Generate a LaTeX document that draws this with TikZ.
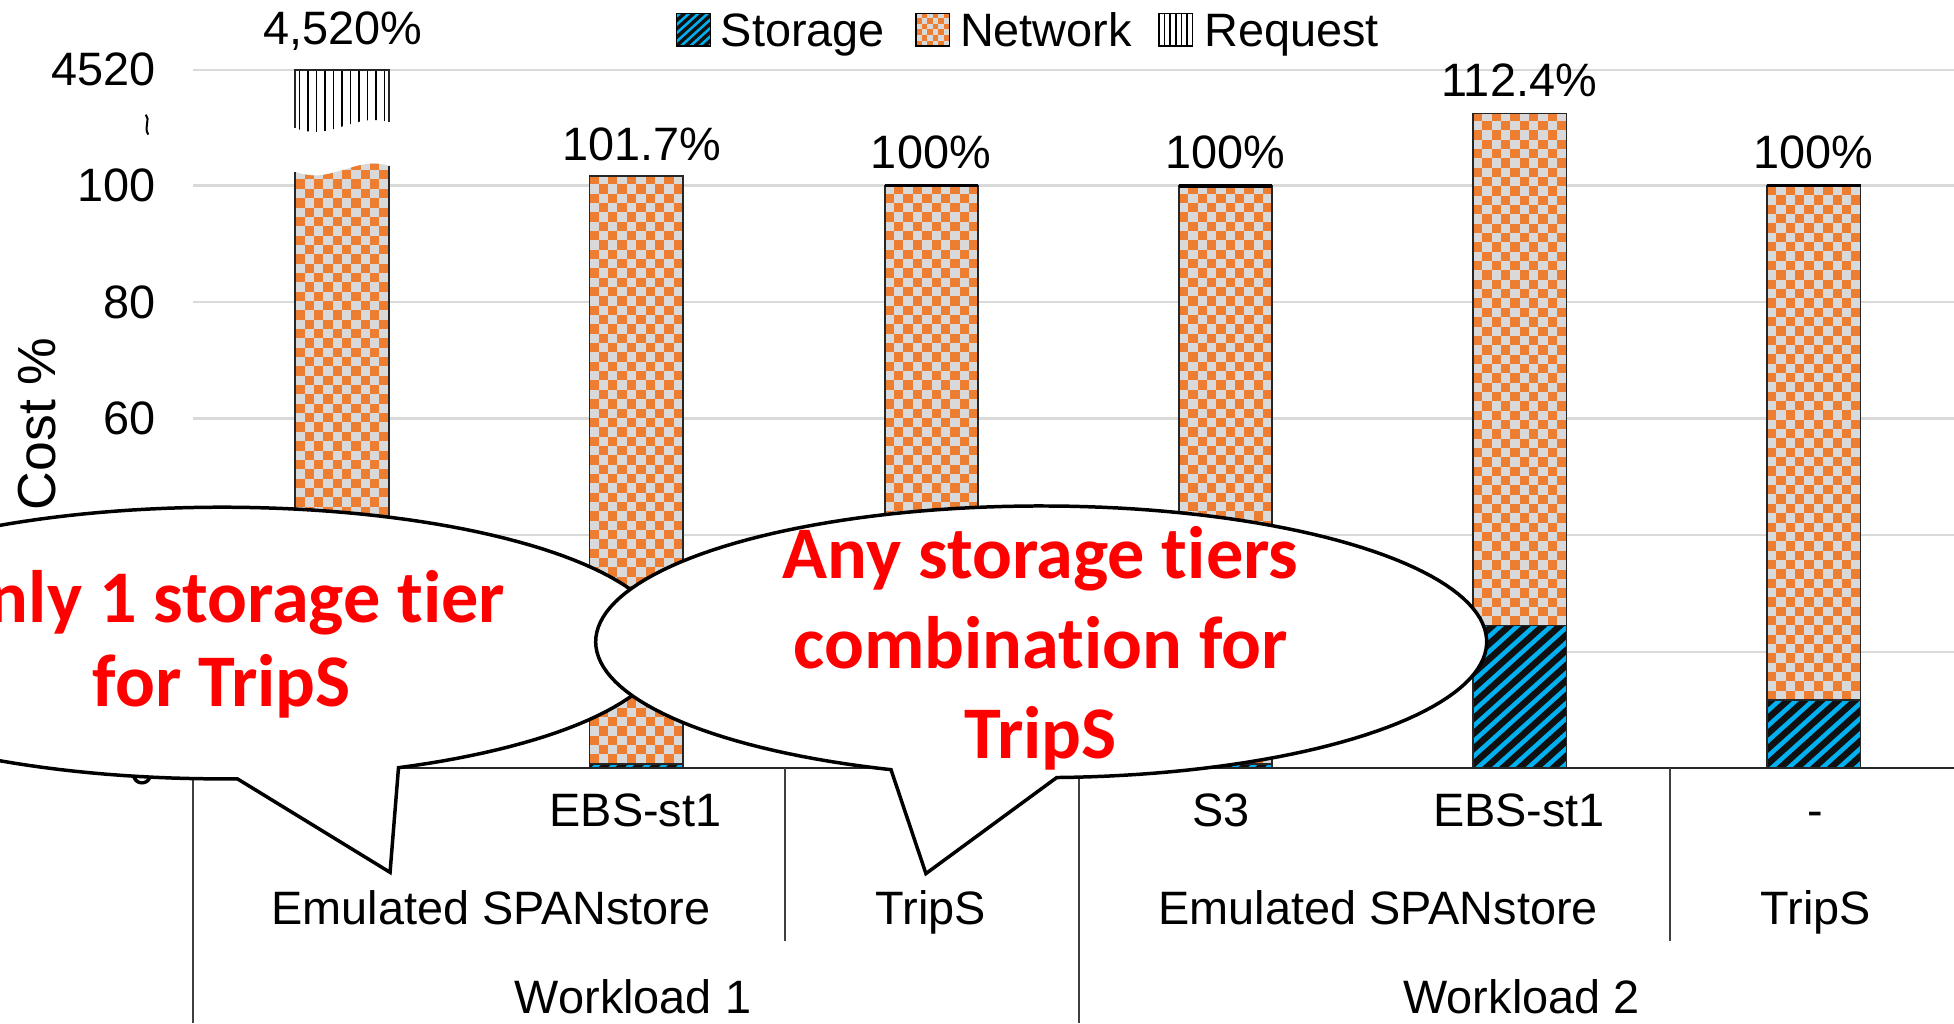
\documentclass[tikz,border=0pt]{standalone}
\usepackage{fontspec}
\setmainfont{Liberation Sans}
\newfontfamily\calloutfont{Carlito}[Ligatures=NoCommon]
\definecolor{netorange}{HTML}{ED7D31}
\definecolor{netgray}{HTML}{D9D9D9}
\definecolor{storblue}{HTML}{00B0F0}
\definecolor{storblack}{HTML}{101010}
\definecolor{gridgray}{HTML}{D9D9D9}
\definecolor{calloutred}{HTML}{FF0000}

\tikzset{
  lbl/.style={inner sep=0pt, font=\fontsize{18.8}{22}\selectfont},
  barline/.style={draw=black!85, line width=0.7pt},
  gridline/.style={draw=gridgray, line width=1pt},
  sepline/.style={draw=black!75, line width=0.6pt},
  bubble/.style={draw=black, fill=white, line width=1.4pt, line join=miter},
  callout/.style={inner sep=0pt, align=center, text=calloutred},
}

% orange/grey checkerboard clipped to a path
% #1 clip path, #2 left x, #3 bottom y, #4 rows, #5 square size
\newcommand\checkerfill[5]{%
  \begin{scope}
    \clip #1;
    \fill[netgray] #1;
    \foreach \j in {0,...,#4} {
      \pgfmathtruncatemacro\off{mod(\j,2)}
      \foreach \i in {0,2,...,12} {
        \fill[netorange] ({#2+(\i+\off)*#5},{#3-\j*#5}) rectangle ++(#5,-#5);
      }
    }
  \end{scope}}

% black box with blue diagonal stripes
% #1 left x, #2 bottom y, #3 top y, #4 width, #5 period, #6 stripe width
\newcommand\stripefill[6]{%
  \begin{scope}
    \clip (#1,#3) rectangle ({#1+#4},#2);
    \fill[storblack] (#1,#3) rectangle ({#1+#4},#2);
    \foreach \k in {-16,...,10}
      \draw[storblue, line width=#6] ({#1+\k*#5},{#2+3}) -- ++(150,-135);
  \end{scope}}

% one stacked bar: storage at the bottom, network on top
% #1 left x, #2 storage top y, #3 bar top y, #4 rows
\newcommand\stackbar[4]{%
  \stripefill{#1}{616.5}{#2}{75}{13.5}{1.8pt}
  \checkerfill{(#1,#2) rectangle ({#1+75},#3)}{#1}{#2}{#4}{7.5}
  \draw[barline] (#1,616.5) rectangle ({#1+75},#3);
  \draw[barline] (#1,#2) -- ({#1+75},#2);
}

\begin{document}
\begin{tikzpicture}[x=0.5pt,y=-0.5pt]
\useasboundingbox (0,0) rectangle (1568,821);
\clip (0,0) rectangle (1568,821);

% gridlines
\foreach \g in {56,149,242.5,336,429.5,523}
  \draw[gridline] (155,\g) -- (1568,\g);

% bar 1 with broken axis: network below the break
\checkerfill{(237,616.5) -- (237,138) .. controls (255,144) and (265,139) .. (280,135) .. controls (292,131) and (302,130) .. (312,133) -- (312,616.5) -- cycle}{237}{616.5}{66}{7.5}
\draw[barline] (237,616.5) -- (237,138);
\draw[barline] (312,616.5) -- (312,133);
% request part above the break
\begin{scope}
  \clip (237,56) -- (312,56) -- (312,98) .. controls (302,95) and (292,96) .. (280,100) .. controls (265,104) and (255,109) .. (237,103) -- cycle;
  \fill[white] (237,56) rectangle (312,112);
  \foreach \k in {0,...,10}
    \draw[black, line width=0.6pt] ({240.4+\k*6.8},50) -- ++(0,70);
\end{scope}
\draw[barline] (237,103) -- (237,56) -- (312,56) -- (312,98);
% break mark on the value axis
\draw[line width=0.8pt] (117,92) .. controls (121,96) and (115,102) .. (119,108);

% bars 2 to 6
\stackbar{473}{612.8}{141}{63}
\stackbar{710}{612.8}{149}{62}
\stackbar{946}{612.8}{149}{62}
\stackbar{1182}{502}{91}{56}
\stackbar{1418}{561.8}{149}{56}
\draw[line width=1.2pt] (710,149) -- (785,149);
\draw[line width=1.5pt] (946,149) -- (1021,149);
\draw[line width=1.4pt] (1418,149) -- (1493,149);

% category axis
\draw[line width=0.9pt, black!85] (155,616.5) -- (1568,616.5);
\draw[sepline] (155,616.5) -- (155,821);
\draw[sepline] (630,616.5) -- (630,755);
\draw[sepline] (866,616.5) -- (866,821);
\draw[sepline] (1340,616.5) -- (1340,755);

\node[lbl, anchor=base] (c2) at (510,663.5) {EBS-st1};
\node[lbl, anchor=base] (c4) at (980,663.5) {S3};
\node[lbl, anchor=base] (c5) at (1219,663.5) {EBS-st1};
\node[lbl, anchor=base] (c6) at (1457,663.5) {-};
\node[lbl, anchor=base] (g1) at (394,741.5) {Emulated SPANstore};
\node[lbl, anchor=base] (g2) at (747,741.5) {TripS};
\node[lbl, anchor=base] (g3) at (1106,741.5) {Emulated SPANstore};
\node[lbl, anchor=base] (g4) at (1457,741.5) {TripS};
\node[lbl, anchor=base] (w1) at (508,813.5) {Workload 1};
\node[lbl, anchor=base] (w2) at (1221,813.5) {Workload 2};

% value axis
\node[lbl, anchor=east] (y6) at (125,56) {4520};
\node[lbl, anchor=east] (y5) at (125,149) {100};
\node[lbl, anchor=east] (y4) at (125,242.5) {80};
\node[lbl, anchor=east] (y3) at (125,336) {60};
\node[lbl, anchor=east] (y0) at (125,616.5) {0};
\node[lbl, rotate=90, font=\fontsize{21.5}{24}\selectfont] (ytitle) at (30,340) {Cost \%};

% totals
\node[lbl, anchor=base] (v1) at (275,35.5) {4,520\%};
\node[lbl, anchor=base] (v2) at (515,128.5) {101.7\%};
\node[lbl, anchor=base] (v3) at (747,135.5) {100\%};
\node[lbl, anchor=base] (v4) at (983,135.5) {100\%};
\node[lbl, anchor=base] (v5) at (1219,77.5) {112.4\%};
\node[lbl, anchor=base] (v6) at (1455,135.5) {100\%};

% legend
\stripefill{543}{37}{11}{27}{7.5}{1pt}
\draw[line width=0.5pt] (543,11) rectangle (570,37);
\node[lbl, anchor=base west] (lg1) at (578,37) {Storage};
\checkerfill{(735,11) rectangle (762,37)}{735}{37}{6}{4.5}
\draw[line width=0.5pt] (735,11) rectangle (762,37);
\node[lbl, anchor=base west] (lg2) at (770,37) {Network};
\fill[white] (930,11) rectangle (957,37);
\foreach \k in {1,...,5}
  \draw[line width=0.6pt] ({930+\k*4.5},11) -- ({930+\k*4.5},37);
\draw[line width=0.5pt] (930,11) rectangle (957,37);
\node[lbl, anchor=base west] (lg3) at (966,37) {Request};

% callouts
\draw[bubble] plot[domain=88:426.6, samples=160, variable=\t]
  ({178+357*cos(\t)},{516+109*sin(\t)}) -- (313,700) -- cycle;
\node[callout, font=\calloutfont\bfseries\fontsize{29.8}{34}\selectfont] (note1) at (178,517)
  {Only 1 storage tier\\for TripS};
\draw[bubble] plot[domain=109.7:448, samples=160, variable=\t]
  ({835.5+357.5*cos(\t)},{515+109*sin(\t)}) -- (743,701) -- cycle;
\node[callout, font=\calloutfont\bfseries\fontsize{29.8}{36.2}\selectfont] (note2) at (835,520)
  {Any storage tiers\\combination for\\TripS};
\end{tikzpicture}
\end{document}
